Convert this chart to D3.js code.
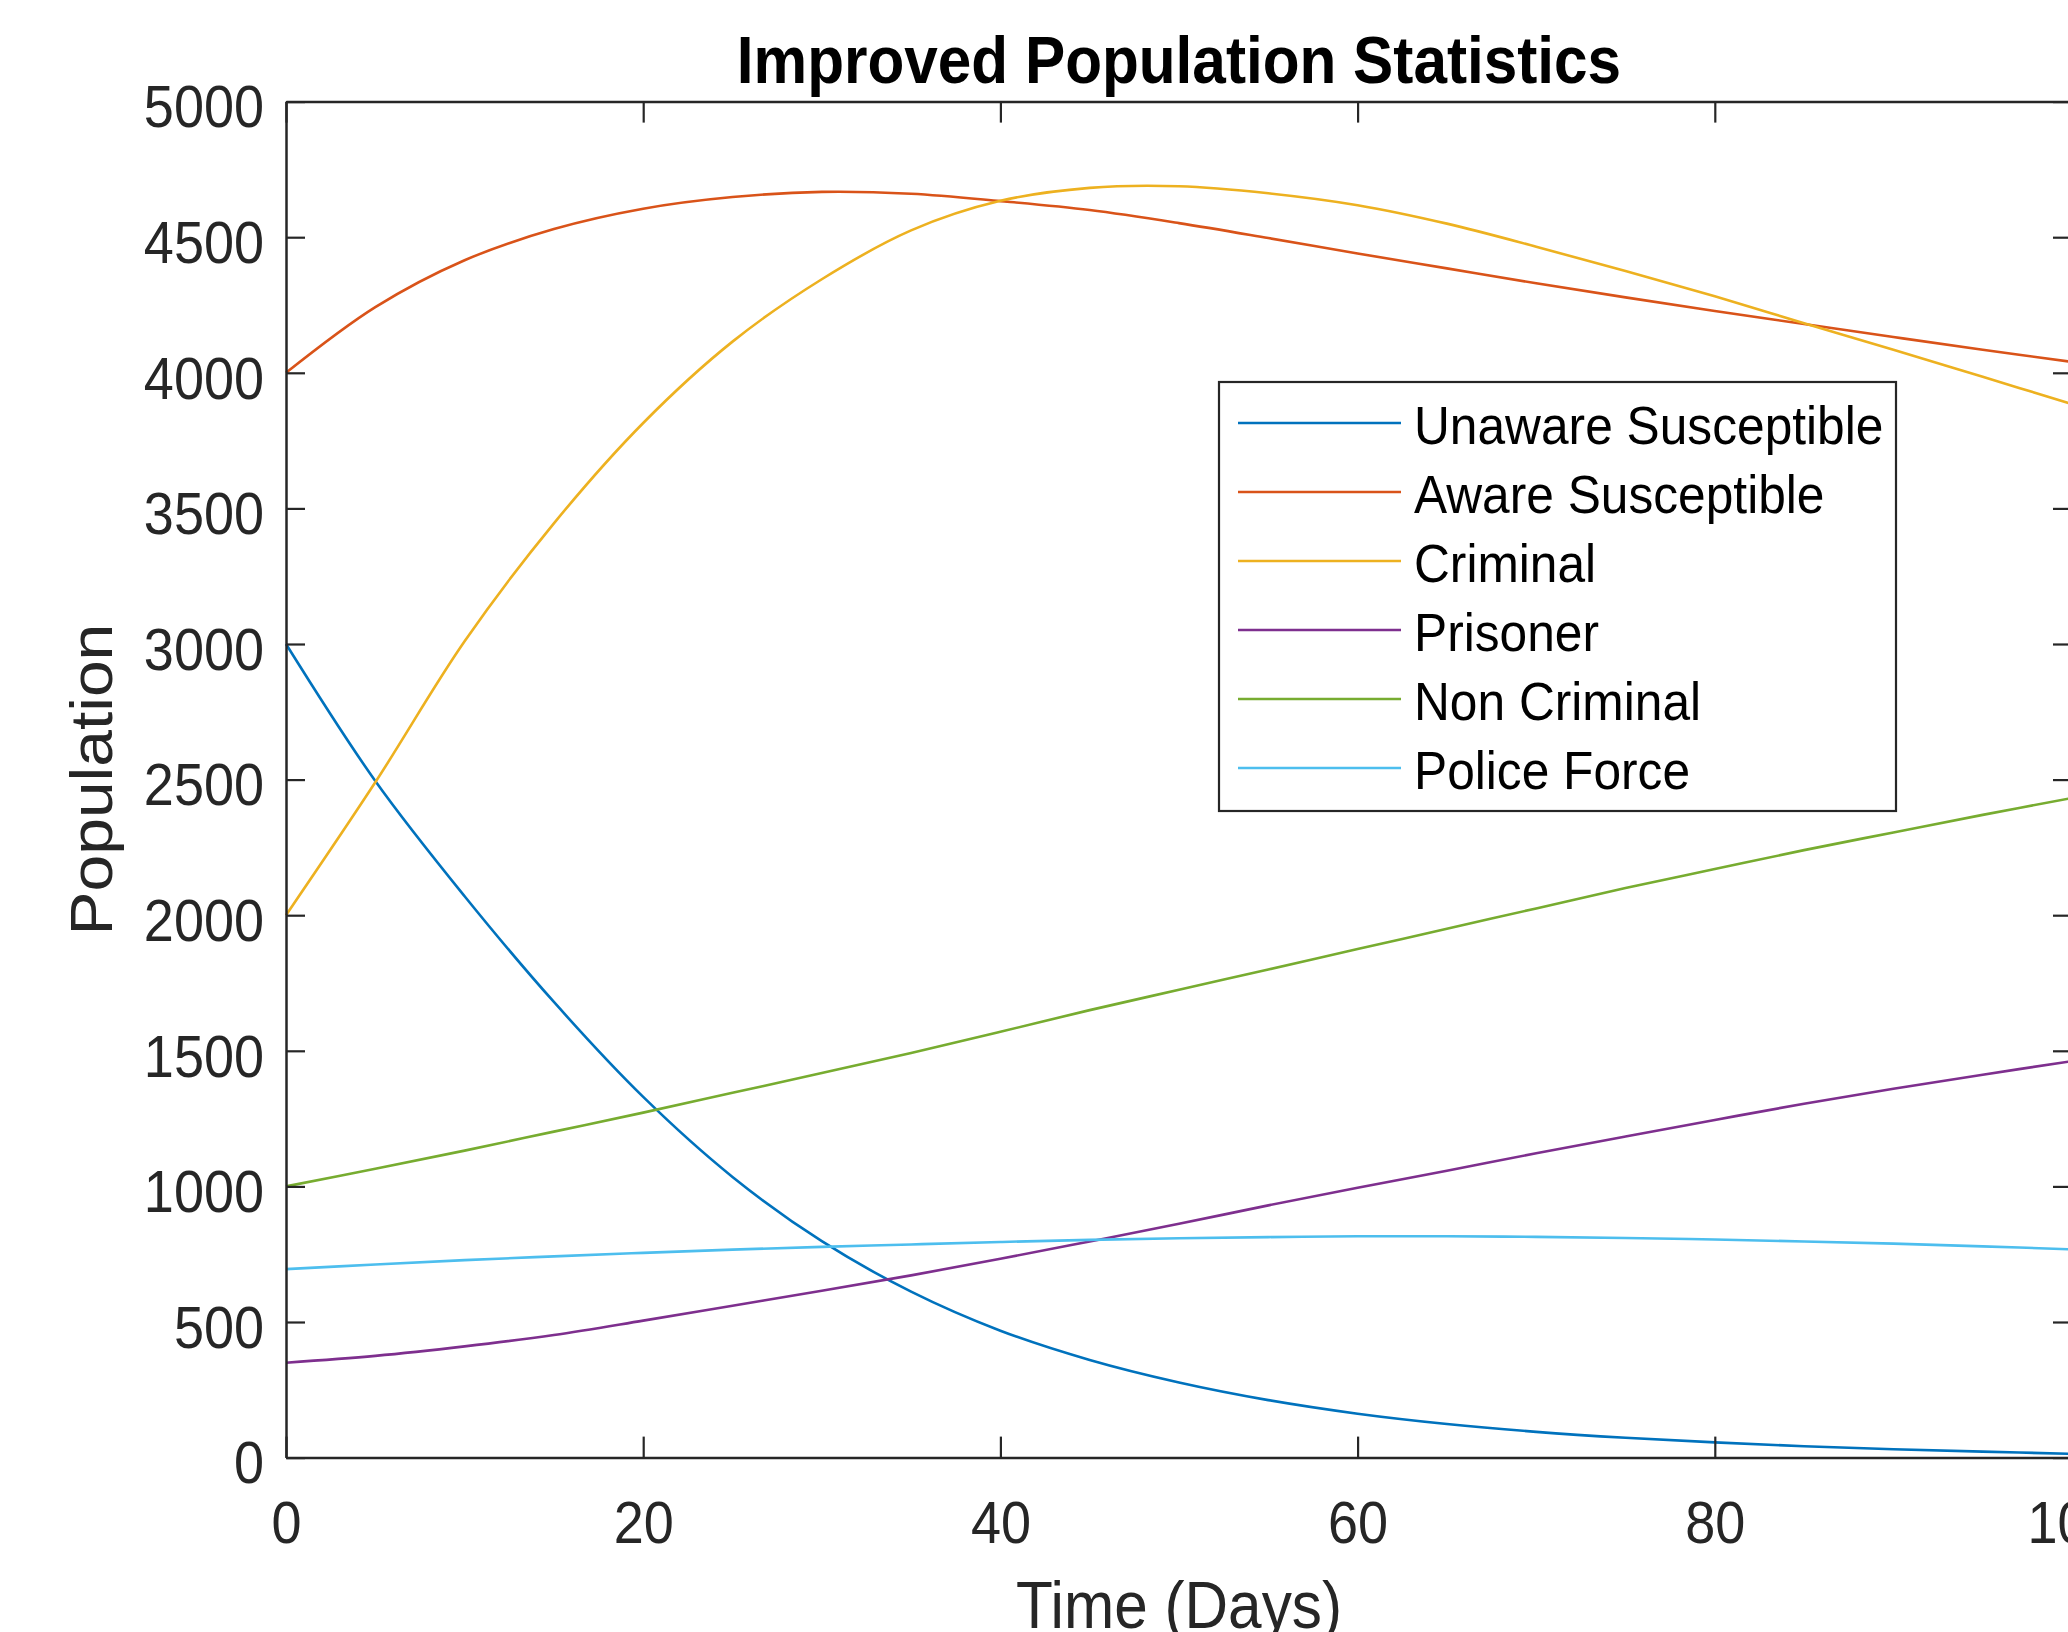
<!DOCTYPE html>
<html>
<head>
<meta charset="utf-8">
<title>Improved Population Statistics</title>
<script src="https://cdn.jsdelivr.net/npm/d3@7"></script>
<style>
body { margin: 0; background: #fff; }
</style>
</head>
<body>
<div id="chart-area"></div>
<script>
// Improved Population Statistics
var days = [0, 5, 10, 15, 20, 25, 30, 35, 40, 45, 50, 55, 60, 65, 70, 75, 80, 85, 90, 95, 100];

var unaware     = [3000, 2495, 2070, 1680, 1330, 1035, 798, 612, 468, 360, 277, 212, 162, 124, 95, 73, 56, 42, 31, 22, 14];
var aware       = [4000, 4242, 4415, 4530, 4605, 4648, 4667, 4660, 4633, 4600, 4552, 4497, 4440, 4385, 4330, 4278, 4228, 4180, 4132, 4085, 4040];
var criminal    = [2000, 2490, 3010, 3445, 3815, 4115, 4345, 4525, 4634, 4682, 4688, 4662, 4618, 4550, 4465, 4375, 4282, 4183, 4085, 3985, 3885];
var prisoner    = [350, 375, 410, 452, 505, 560, 615, 672, 733, 797, 862, 930, 995, 1058, 1122, 1184, 1245, 1305, 1360, 1412, 1462];
var nonCriminal = [1000, 1065, 1132, 1202, 1272, 1345, 1418, 1492, 1570, 1650, 1725, 1800, 1875, 1950, 2025, 2100, 2170, 2240, 2305, 2370, 2432];
var police      = [695, 712, 728, 742, 755, 767, 777, 786, 795, 803, 809, 813, 816, 816, 814, 810, 804, 797, 789, 779, 768];

var seriesNames = ["Unaware Susceptible", "Aware Susceptible", "Criminal", "Prisoner", "Non Criminal", "Police Force"];
var seriesValues = [unaware, aware, criminal, prisoner, nonCriminal, police];
var colors = ["#0072BD", "#D95319", "#EDB120", "#7E2F8E", "#77AC30", "#4DBEEE"];

var xTicks = [0, 20, 40, 60, 80, 100];
var yTicks = [0, 500, 1000, 1500, 2000, 2500, 3000, 3500, 4000, 4500, 5000];

var fontFamily = "'Liberation Sans', Arial, Helvetica, sans-serif";
var axisColor = "#262626";
var squeeze = 0.9;

var margin = { left: 286, top: 101.6 };
var width = 1786,
    height = 1356;

var svg = d3.select("#chart-area").append("svg")
    .attr("width", 2068)
    .attr("height", 1632)
    .style("display", "block");

var g = svg.append("g").attr("transform", "translate(" + margin.left + ", " + margin.top + ")");

var x = d3.scaleLinear().domain([0, 100]).range([0, width]);
var y = d3.scaleLinear().domain([0, 5000]).range([height, 0]);

// lines
var line = d3.line()
    .x(function(d) { return x(d.t); })
    .y(function(d) { return y(d.v); })
    .curve(d3.curveCatmullRom.alpha(0.5));

seriesValues.forEach(function(values, i) {
    var pts = days.map(function(t, j) { return { t: t, v: values[j] }; });
    g.append("path")
        .datum(pts)
        .attr("fill", "none")
        .attr("stroke", colors[i])
        .attr("stroke-width", 2.6)
        .attr("d", line);
});

// axes, ticks pointing inward like matlab
function styleAxis(sel) {
    sel.select(".domain").attr("stroke", axisColor).attr("stroke-width", 2.5);
    sel.selectAll(".tick line").attr("stroke", axisColor).attr("stroke-width", 2.2);
    sel.attr("font-family", fontFamily).attr("font-size", 60);
    sel.selectAll(".tick text").attr("fill", axisColor);
}

var xAxisGroup = g.append("g")
    .attr("transform", "translate(0, " + height + ")")
    .call(d3.axisBottom(x).tickValues(xTicks).tickSize(-21).tickSizeOuter(0).tickPadding(43).tickFormat(d3.format("d")));
styleAxis(xAxisGroup);
xAxisGroup.selectAll(".tick text").attr("transform", "scale(" + squeeze + ",1)");

var yAxisGroup = g.append("g")
    .call(d3.axisLeft(y).tickValues(yTicks).tickSize(-19).tickSizeOuter(0).tickPadding(24.5).tickFormat(d3.format("d")));
styleAxis(yAxisGroup);
yAxisGroup.selectAll(".tick text")
    .attr("dy", "0.42em")
    .attr("transform", "scale(" + squeeze + ",1)");

var topAxisGroup = g.append("g")
    .call(d3.axisTop(x).tickValues(xTicks).tickSize(-21).tickSizeOuter(0).tickFormat(""));
styleAxis(topAxisGroup);

var rightAxisGroup = g.append("g")
    .attr("transform", "translate(" + width + ", 0)")
    .call(d3.axisRight(y).tickValues(yTicks).tickSize(-19).tickSizeOuter(0).tickFormat(""));
styleAxis(rightAxisGroup);

// Title
svg.append("text")
    .attr("transform", "translate(" + (margin.left + width / 2) + ", 83) scale(" + squeeze + ",1)")
    .attr("font-family", fontFamily)
    .attr("font-size", 67)
    .attr("font-weight", "bold")
    .attr("text-anchor", "middle")
    .style("fill", "#000")
    .text("Improved Population Statistics");

// X Label
svg.append("text")
    .attr("transform", "translate(" + (margin.left + width / 2) + ", 1628) scale(" + squeeze + ",1)")
    .attr("font-family", fontFamily)
    .attr("font-size", 67)
    .attr("text-anchor", "middle")
    .style("fill", axisColor)
    .text("Time (Days)");

// Y Label
svg.append("text")
    .attr("transform", "translate(112, " + (margin.top + height / 2) + ") scale(" + squeeze + ",1) rotate(-90)")
    .attr("font-family", fontFamily)
    .attr("font-size", 66)
    .attr("text-anchor", "middle")
    .style("fill", axisColor)
    .text("Population");

// Legend
var legend = svg.append("g").attr("transform", "translate(1219, 382)");
legend.append("rect")
    .attr("width", 677)
    .attr("height", 429)
    .attr("fill", "#fff")
    .attr("stroke", axisColor)
    .attr("stroke-width", 2.2);

var rows = legend.selectAll(".row")
    .data(seriesNames)
    .enter().append("g")
    .attr("class", "row")
    .attr("transform", function(d, i) { return "translate(0, " + (41 + i * 69) + ")"; });

rows.append("line")
    .attr("x1", 19)
    .attr("x2", 182)
    .attr("stroke", function(d, i) { return colors[i]; })
    .attr("stroke-width", 2.6);

rows.append("text")
    .attr("transform", "translate(195, 21) scale(0.92,1)")
    .attr("font-family", fontFamily)
    .attr("font-size", 54)
    .style("fill", "#000")
    .text(function(d) { return d; });
</script>
</body>
</html>
